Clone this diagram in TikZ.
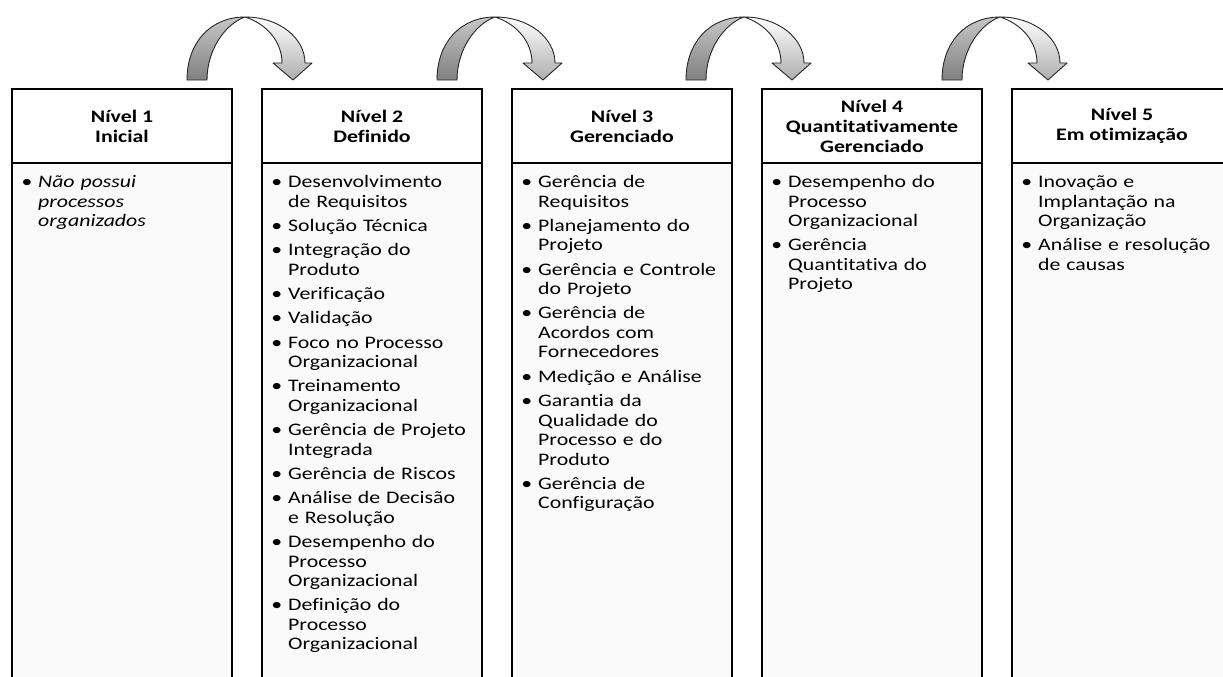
\documentclass[tikz,border=0pt]{standalone}
\usepackage{fontspec}
\setmainfont{Carlito}[FakeStretch=1.24,Ligatures=NoCommon]
\usepackage{enumitem}
\usepackage{tikz}
\usetikzlibrary{positioning}
\tikzset{
    colbox/.style={draw=black,line width=2.6pt},
    colbody/.style={fill=black!2},
    headlabel/.style={align=center,inner sep=0pt,font=\bfseries\fontsize{17.6}{20}\selectfont},
    itemlist/.style={anchor=base west,text width=230pt,inner sep=0pt,font=\fontsize{17.6}{19.5}\selectfont},
    bendarrow/.style={draw=black!85,line width=0.9pt,line join=round},
    backband/.style={bendarrow,top color=black!22,bottom color=black!50},
    frontband/.style={bendarrow,top color=white,bottom color=black!32},
}
\newcommand{\levelitems}[1]{\begin{itemize}[label=\textbullet,leftmargin=22pt,labelsep=6pt,itemsep=4.8pt,parsep=0pt,topsep=0pt,partopsep=0pt]#1\end{itemize}}

\begin{document}
\begin{tikzpicture}[x=1pt,y=-1pt]
	\useasboundingbox (0,0) rectangle (1223,677);
	\clip (0,0) rectangle (1223,677);

	\foreach \l in {12,262,512,762,1012}{
		\fill[colbody] (\l,163) rectangle ++(220,540);
		\draw[colbox] (\l,89) rectangle ++(220,620);
		\draw[colbox] (\l,163) -- ++(220,0);
	}

	\foreach \a in {187,437,686,942}{
		\path[backband] (\a,80) .. controls (\a,42) and (\a+24,17) .. (\a+58,17)
			.. controls (\a+38,24) and (\a+20,50) .. (\a+20,80) -- cycle;
		\path[frontband] (\a+58,17) .. controls (\a+92,17) and (\a+118,38) .. (\a+118,63)
			-- (\a+125,63) -- (\a+106,80) -- (\a+86,63) -- (\a+95,63)
			.. controls (\a+95,42) and (\a+80,24) .. (\a+58,17) -- cycle;
	}

	\node[headlabel] (h1) at (122,126) {Nível 1\\Inicial};
	\node[headlabel] (h2) at (372,126) {Nível 2\\Definido};
	\node[headlabel] (h3) at (622,126) {Nível 3\\Gerenciado};
	\node[headlabel] (h4) at (872,126) {Nível 4\\Quantitativamente\\Gerenciado};
	\node[headlabel] (h5) at (1122,126) {Nível 5\\Em otimização};

	\node[itemlist] (b1) at (16,168) {\itshape\levelitems{
		\item Não possui\\processos\\organizados}};
	\node[itemlist] (b2) at (266,168) {\levelitems{
		\item Desenvolvimento\\de Requisitos
		\item Solução Técnica
		\item Integração do\\Produto
		\item Verificação
		\item Validação
		\item Foco no Processo\\Organizacional
		\item Treinamento\\Organizacional
		\item Gerência de Projeto\\Integrada
		\item Gerência de Riscos
		\item Análise de Decisão\\e Resolução
		\item Desempenho do\\Processo\\Organizacional
		\item Definição do\\Processo\\Organizacional}};
	\node[itemlist] (b3) at (516,168) {\levelitems{
		\item Gerência de\\Requisitos
		\item Planejamento do\\Projeto
		\item Gerência e Controle\\do Projeto
		\item Gerência de\\Acordos com\\Fornecedores
		\item Medição e Análise
		\item Garantia da\\Qualidade do\\Processo e do\\Produto
		\item Gerência de\\Configuração}};
	\node[itemlist] (b4) at (766,168) {\levelitems{
		\item Desempenho do\\Processo\\Organizacional
		\item Gerência\\Quantitativa do\\Projeto}};
	\node[itemlist] (b5) at (1016,168) {\levelitems{
		\item Inovação e\\Implantação na\\Organização
		\item Análise e resolução\\de causas}};
\end{tikzpicture}
\end{document}
